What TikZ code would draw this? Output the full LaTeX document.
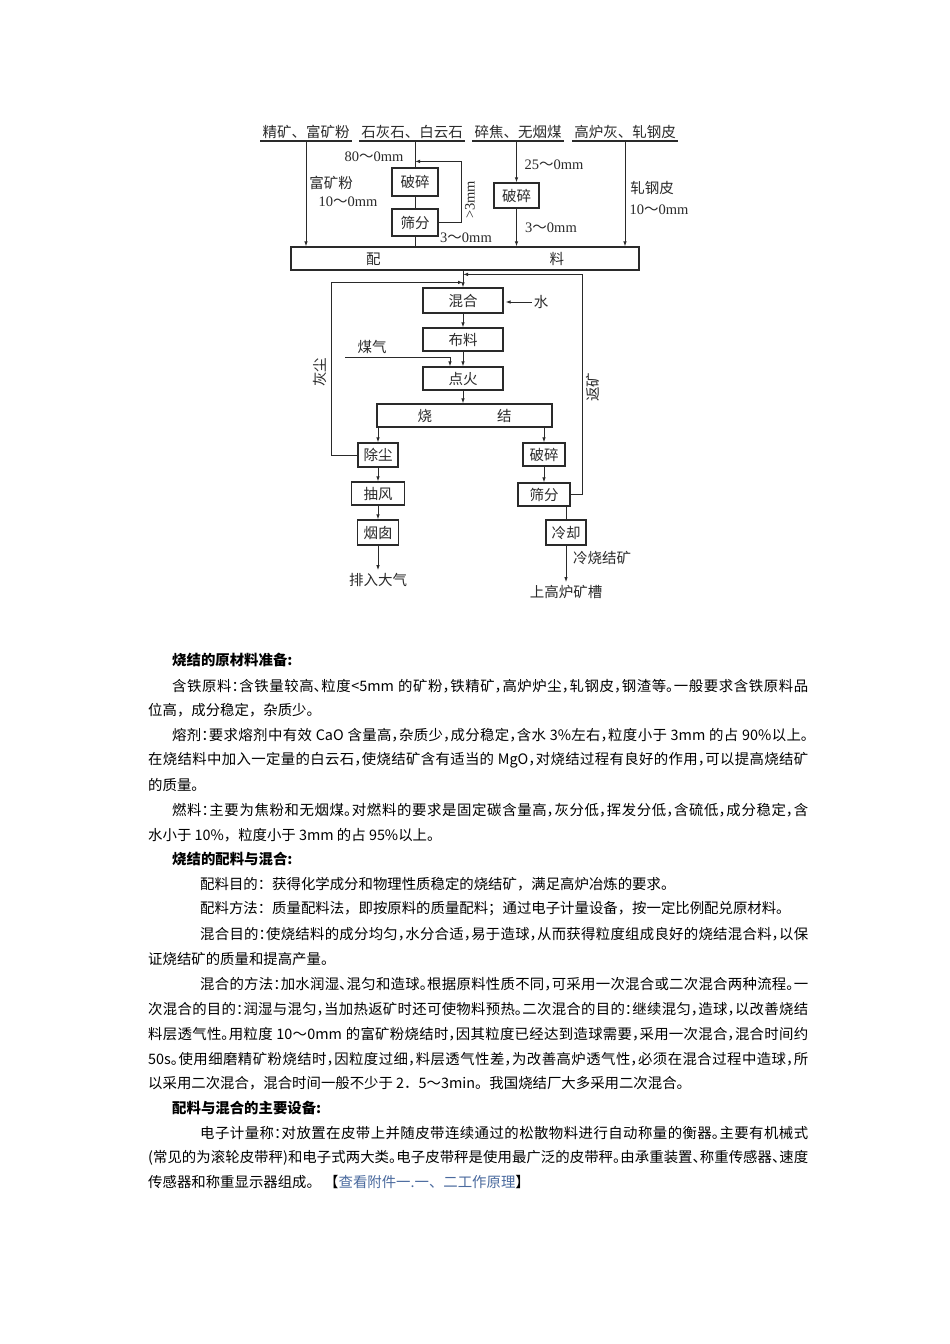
\documentclass[tikz,border=0pt]{standalone}
\usepackage{fontspec}
\setmainfont{Noto Sans CJK SC}
\newfontfamily\halffont{Noto Sans CJK SC}[RawFeature=+halt]
\newfontfamily\numf{Liberation Serif}
\usetikzlibrary{arrows.meta,positioning}
\definecolor{ink}{HTML}{2A2A2A}
\definecolor{linkblue}{HTML}{4A6A9E}
\XeTeXlinebreaklocale "zh"
\XeTeXlinebreakskip=0pt plus 1pt
\setlength{\parindent}{0pt}
\newcommand{\sizerange}[2]{{\numf #1}～{\numf #2mm}}
\newcommand{\fullline}[2]{\parbox{#1}{\halffont\parfillskip=0pt\relax #2}}

\begin{document}
\begin{tikzpicture}[
   x=1pt, y=-1pt,
   font=\fontsize{14.5}{16}\selectfont,
   proc/.style={draw=ink, line width=1.2pt, inner sep=0pt, text=ink},
   flow/.style={-{Latex[length=5pt,width=3.5pt]}, draw=ink, line width=0.9pt},
   plain/.style={draw=ink, line width=0.9pt},
   src/.style={inner sep=2pt, text=ink},
   lbl/.style={inner sep=0pt, text=ink},
   txt/.style={anchor=west, inner sep=0pt, font=\fontsize{14.4}{17}\selectfont},
   head/.style={txt, font=\fontsize{14.4}{17}\selectfont\bfseries},
]
  \fill[white] (0,0) rectangle (950,1344);
  \useasboundingbox (0,0) rectangle (950,1344);

  % raw materials
  \node[src] (src1) at (306,132) {精矿、富矿粉};
  \node[src] (src2) at (412,132) {石灰石、白云石};
  \node[src] (src3) at (518,132) {碎焦、无烟煤};
  \node[src] (src4) at (625,132) {高炉灰、轧钢皮};
  \foreach \s in {src1,src2,src3,src4}
    \draw[plain, line width=1.2pt] (\s.south west) -- (\s.south east);

  \node[proc, minimum width=348pt, minimum height=23pt] (pl) at (465,258.5) {配\hspace{169pt}料};
  \node[proc, minimum width=46pt, minimum height=28pt] (psA) at (415,182) {破碎};
  \node[proc, minimum width=46pt, minimum height=27pt] (sfA) at (415,222.5) {筛分};
  \node[proc, minimum width=45pt, minimum height=25pt] (psB) at (516.5,195.5) {破碎};

  \draw[flow] (src1.south) -- (src1.south |- pl.north);
  \draw[plain] (src2.south -| psA.north) -- (psA.north);
  \draw[plain] (psA) -- (sfA);
  \draw[plain] (sfA.south) -- (sfA.south |- pl.north);
  \draw[flow] (sfA.east) -- ++(23,0) |- ([yshift=6pt]psA.north);
  \draw[flow] (src3.south -| psB.north) -- (psB.north);
  \draw[flow] (psB.south) -- (psB.south |- pl.north);
  \draw[flow] (src4.south) -- (src4.south |- pl.north);

  \node[lbl] (rgA) at (374,157) {\sizerange{80}{0}};
  \node[lbl] (fkf) at (331,183) {富矿粉};
  \node[lbl] (rgF) at (348,202) {\sizerange{10}{0}};
  \node[lbl, rotate=90] (over) at (470,200) {{\numf >3mm}};
  \node[lbl] (rgS) at (466,238) {\sizerange{3}{0}};
  \node[lbl] (rgB) at (554,165) {\sizerange{25}{0}};
  \node[lbl] (rgC) at (551,228) {\sizerange{3}{0}};
  \node[lbl] (zgp) at (652,188) {轧钢皮};
  \node[lbl] (rgZ) at (659,210) {\sizerange{10}{0}};

  % sintering line
  \node[proc, minimum width=80pt, minimum height=25pt] (hh) at (463,300.5) {混合};
  \node[proc, minimum width=80pt, minimum height=23pt] (bl) at (463,339.5) {布料};
  \node[proc, minimum width=80pt, minimum height=23pt] (dh) at (463,378.5) {点火};
  \node[proc, minimum width=175pt, minimum height=23pt] (sj) at (464.5,415.5) {烧\hspace{65pt}结};
  \node[proc, minimum width=40pt, minimum height=24pt] (cc) at (378,455) {除尘};
  \node[proc, minimum width=53pt, minimum height=23pt] (cf) at (378,493.5) {抽风};
  \node[proc, minimum width=41pt, minimum height=25pt] (yc) at (378,532.5) {烟囱};
  \node[proc, minimum width=42pt, minimum height=23pt] (psC) at (544,454.5) {破碎};
  \node[proc, minimum width=52pt, minimum height=23pt] (sfC) at (544,494.5) {筛分};
  \node[proc, minimum width=40pt, minimum height=25pt] (lq) at (566,532.5) {冷却};

  \node[lbl] (water) at (541,302) {水};
  \node[lbl] (gas) at (372,347) {煤气};
  \coordinate (gasin) at (345,357);
  \node[lbl, rotate=90] (dust) at (320,372) {灰尘};
  \node[lbl, rotate=90] (ret) at (593,387) {返矿};
  \node[lbl, inner sep=3pt] (air) at (378,580) {排入大气};
  \node[lbl, anchor=west] (cold) at (573,558) {冷烧结矿};
  \node[lbl, inner sep=3pt] (blast) at (566,592) {上高炉矿槽};

  \draw[flow] (pl.south -| hh.north) -- (hh.north);
  \draw[flow] ([xshift=-2pt]water.west) -- ++(-26,0);
  \draw[flow] (hh) -- (bl);
  \draw[flow] (bl) -- (dh);
  \draw[flow] (gasin) -| ([xshift=-13pt]dh.north);
  \draw[flow] (dh.south) -- (dh.south |- sj.north);
  \draw[flow] (sj.south -| cc.north) -- (cc.north);
  \draw[flow] (sj.south -| psC.north) -- (psC.north);
  \draw[flow] (cc) -- (cf);
  \draw[flow] (cf) -- (yc);
  \draw[flow] (yc) -- (air);
  \draw[flow] (psC) -- (sfC);
  \draw[plain] (sfC.south -| lq.north) -- (lq.north);
  \draw[flow] (lq) -- (blast);
  \draw[flow] (sfC.east) -- ++(12,0) |- ([yshift=13pt]hh.north);
  \draw[flow] (cc.west) -- ++(-26,0) |- ([yshift=5pt]hh.north);

  % text
  \node[head] (h1) at (172,660) {烧结的原材料准备:};
  \node[txt] (t1) at (172,686) {\fullline{636pt}{含铁原料：含铁量较高、粒度<5mm 的矿粉，铁精矿，高炉炉尘，轧钢皮，钢渣等。一般要求含铁原料品}};
  \node[txt] (t2) at (148,710) {位高，成分稳定，杂质少。};
  \node[txt] (t3) at (172,735) {\fullline{636pt}{熔剂：要求熔剂中有效 CaO 含量高，杂质少，成分稳定，含水 3\%左右，粒度小于 3mm 的占 90\%以上。}};
  \node[txt] (t4) at (148,760) {\fullline{660pt}{在烧结料中加入一定量的白云石，使烧结矿含有适当的 MgO，对烧结过程有良好的作用，可以提高烧结矿}};
  \node[txt] (t5) at (148,785) {的质量。};
  \node[txt] (t6) at (172,810) {\fullline{636pt}{燃料：主要为焦粉和无烟煤。对燃料的要求是固定碳含量高，灰分低，挥发分低，含硫低，成分稳定，含}};
  \node[txt] (t7) at (148,835) {水小于 10\%，粒度小于 3mm 的占 95\%以上。};
  \node[head] (h2) at (172,859) {烧结的配料与混合:};
  \node[txt] (t8) at (200,884) {配料目的：获得化学成分和物理性质稳定的烧结矿，满足高炉冶炼的要求。};
  \node[txt] (t9) at (200,909) {配料方法：质量配料法，即按原料的质量配料；通过电子计量设备，按一定比例配兑原材料。};
  \node[txt] (t10) at (200,934) {\fullline{608pt}{混合目的：使烧结料的成分均匀，水分合适，易于造球，从而获得粒度组成良好的烧结混合料，以保}};
  \node[txt] (t11) at (148,959) {证烧结矿的质量和提高产量。};
  \node[txt] (t12) at (200,984) {\fullline{608pt}{混合的方法：加水润湿、混匀和造球。根据原料性质不同，可采用一次混合或二次混合两种流程。一}};
  \node[txt] (t13) at (148,1009) {\fullline{660pt}{次混合的目的：润湿与混匀，当加热返矿时还可使物料预热。二次混合的目的：继续混匀，造球，以改善烧结}};
  \node[txt] (t14) at (148,1034) {\fullline{660pt}{料层透气性。用粒度 10～0mm 的富矿粉烧结时，因其粒度已经达到造球需要，采用一次混合，混合时间约}};
  \node[txt] (t15) at (148,1059) {\fullline{660pt}{50s。使用细磨精矿粉烧结时，因粒度过细，料层透气性差，为改善高炉透气性，必须在混合过程中造球，所}};
  \node[txt] (t16) at (148,1083) {以采用二次混合，混合时间一般不少于 2．5～3min。我国烧结厂大多采用二次混合。};
  \node[head] (h3) at (172,1108) {配料与混合的主要设备:};
  \node[txt] (t17) at (200,1133) {\fullline{608pt}{电子计量称：对放置在皮带上并随皮带连续通过的松散物料进行自动称量的衡器。主要有机械式}};
  \node[txt] (t18) at (148,1158) {\fullline{660pt}{(常见的为滚轮皮带秤)和电子式两大类。电子皮带秤是使用最广泛的皮带秤。由承重装置、称重传感器、速度}};
  \node[txt] (t19) at (148,1182) {传感器和称重显示器组成。 【{\color{linkblue}查看附件一.一、二工作原理}】};
\end{tikzpicture}
\end{document}
